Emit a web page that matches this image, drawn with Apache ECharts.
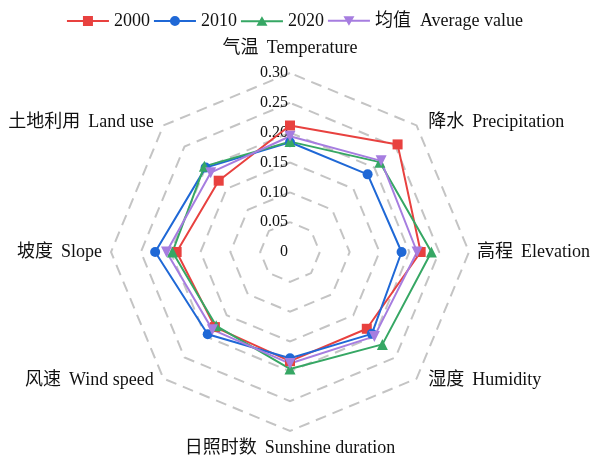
<!DOCTYPE html>
<html><head><meta charset="utf-8">
<script src="https://cdn.jsdelivr.net/npm/echarts@6/dist/echarts.min.js"></script>
<style>html,body{margin:0;padding:0;background:#fff}#c{width:590px;height:456px}</style>
</head><body><div id="c"></div>
<script>
// Indicators in clockwise order starting at the top
const indicators = ['气温 \u2009Temperature', '降水 \u2009Precipitation', '高程 \u2009Elevation', '湿度 \u2009Humidity',
  '日照时数 \u2009Sunshine duration', '风速 \u2009Wind speed', '坡度 \u2009Slope', '土地利用 \u2009Land use'];
const seriesNames = ['2000', '2010', '2020', '均值  Average value'];
const v2000 = [0.212, 0.255, 0.219, 0.182, 0.183, 0.178, 0.190, 0.169];
const v2010 = [0.184, 0.184, 0.187, 0.194, 0.178, 0.195, 0.226, 0.200];
const v2020 = [0.185, 0.213, 0.237, 0.219, 0.196, 0.175, 0.197, 0.203];
const vAvg  = [0.194, 0.216, 0.213, 0.200, 0.187, 0.184, 0.207, 0.188];
const tickValues = [0, 0.05, 0.10, 0.15, 0.20, 0.25, 0.30];

const colors = ['#e8413f', '#1f68d6', '#36a764', '#a67de0'];
const symbols = ['rect', 'circle', 'triangle', 'path://M0,0 L10,0 L5,9 Z'];
const legendIcons = [
  'path://M0,4H16V0H26V4H42V6H26V10H16V6H0Z',
  'path://M0,4H42V6H0Z M16,5 A5,5 0 1,1 26,5 A5,5 0 1,1 16,5 Z',
  'path://M0,4H42V6H0Z M21,0 L26.5,9.5 L15.5,9.5 Z',
  'path://M0,4H42V6H0Z M15.5,0.5 L26.5,0.5 L21,10 Z'
];
// ECharts radar goes counter-clockwise; reorder so indicators appear clockwise
const order = [0, 7, 6, 5, 4, 3, 2, 1];
const reorder = arr => order.map(i => arr[i]);
const allValues = [v2000, v2010, v2020, vAvg];
const maxV = tickValues[tickValues.length - 1];
const font = "'Liberation Serif', 'Noto Sans CJK SC', serif";
const C = [290, 252], R = 179;

// per-label fine offsets (padding) for name placement, clockwise order
const namePads = [[0, 0, 8, 0], [4, 0, 0, 6], [0, 0, 0, 0], [0, 0, 8, 6],
  [0, 0, 0, 0], [0, 4, 8, 0], [0, 1, 0, 0], [4, 4, 0, 0]];
const rich = {};
namePads.forEach((p, i) => {
  rich['k' + i] = {fontSize: 18, fontFamily: font, color: '#111', padding: p};
});

const chart = echarts.init(document.getElementById('c'));
chart.setOption({
  animation: false,
  color: colors,
  legend: {
    top: 7, left: 'center', itemWidth: 42, itemHeight: 10, itemGap: 4,
    textStyle: {fontSize: 18, fontFamily: font, color: '#111'},
    data: seriesNames.map((n, i) => ({name: n, icon: legendIcons[i]}))
  },
  radar: {
    center: C, radius: R, startAngle: 90, shape: 'polygon', splitNumber: 6,
    indicator: reorder(indicators).map(n => ({name: n, min: 0, max: maxV})),
    axisName: {
      color: '#111', fontSize: 18, fontFamily: font, rich: rich,
      formatter: name => '{k' + indicators.indexOf(name) + '|' + name + '}'
    },
    nameGap: 8,
    axisLine: {show: false},
    axisTick: {show: false},
    axisLabel: {show: false},
    splitArea: {show: false},
    splitLine: {lineStyle: {color: '#c4c4c4', width: 2, type: [11, 7]}}
  },
  polar: {center: C, radius: R},
  angleAxis: {show: false, startAngle: 90, min: 0, max: 360},
  radiusAxis: {
    min: 0, max: maxV, interval: 0.05,
    axisLine: {show: false}, axisTick: {show: false}, splitLine: {show: false},
    axisLabel: {fontSize: 16, fontFamily: font, color: '#111', margin: 2,
      formatter: v => (Math.abs(v) < 1e-9 ? '0' : v.toFixed(2))}
  },
  series: [{
    type: 'radar',
    data: allValues.map((arr, i) => ({
      name: seriesNames[i], value: reorder(arr),
      symbol: symbols[i], symbolSize: i >= 2 ? 11 : 10,
      lineStyle: {width: 2, color: colors[i]},
      itemStyle: {color: colors[i]}
    }))
  }]
});
</script></body></html>
